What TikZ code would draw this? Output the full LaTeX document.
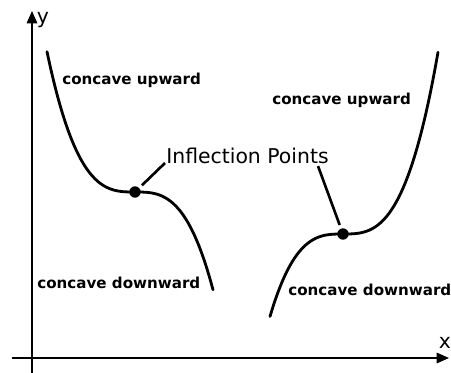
\documentclass[tikz,border=0pt]{standalone}
\usepackage{fontspec}
\setmainfont{DejaVu Sans}
\usetikzlibrary{arrows.meta,positioning}

\begin{document}
\begin{tikzpicture}
	[
	x=0.02cm, y=-0.02cm,
	axis/.style={line width=0.8pt,-{Triangle[length=7pt,width=6pt]}},
	curve/.style={line width=1.6pt,line cap=round},
	dot/.style={circle,fill=black,inner sep=0pt,minimum size=6.5pt},
	lead/.style={line width=1.5pt,shorten <=2pt},
	label/.style={draw=none,fill=none,inner sep=0pt,anchor=west,
		font=\bfseries\fontsize{8.6}{10}\selectfont},
	title/.style={draw=none,fill=none,inner sep=0pt,
		font=\fontsize{11.6}{13}\selectfont}
	]
		\useasboundingbox (0,0) rectangle (451,373);
		
		% axes
		\coordinate (ybot) at (32,373);
		\coordinate (ytop) at (32,11);
		\coordinate (xleft) at (12,358);
		\coordinate (xright) at (449,358);
		\draw[axis] (ybot) -- (ytop);
		\draw[axis] (xleft) -- (xright);
		\node[title] (ylab) at (43,20) {y};
		\node[title] (xlab) at (445,343) {x};
		
		% curves
		\draw[curve] plot[domain=47:213,samples=60,smooth]
			(\x,{192+206*((\x-135)/100)*((\x-135)/100)*((\x-135)/100)});
		\draw[curve] plot[domain=270:438,samples=60,smooth]
			(\x,{234-212*((\x-343)/100)*((\x-343)/100)*((\x-343)/100)});
		
		% inflection points
		\node[dot] (ip1) at (135,192) {};
		\node[dot] (ip2) at (343,234) {};
		
		% labels
		\node[label] (cu1) at (62,80) {concave upward};
		\node[label] (cu2) at (272,100) {concave upward};
		\node[label] (cd1) at (37,283) {concave downward};
		\node[label] (cd2) at (288,290) {concave downward};
		\node[title,anchor=west] (infl) at (166,156) {Inflection Points};
		
		% leaders
		\coordinate (l1) at (165,163);
		\coordinate (l2) at (318,166);
		\draw[lead] (ip1) -- (l1);
		\draw[lead] (ip2) -- (l2);
		
	\end{tikzpicture}
\end{document}
